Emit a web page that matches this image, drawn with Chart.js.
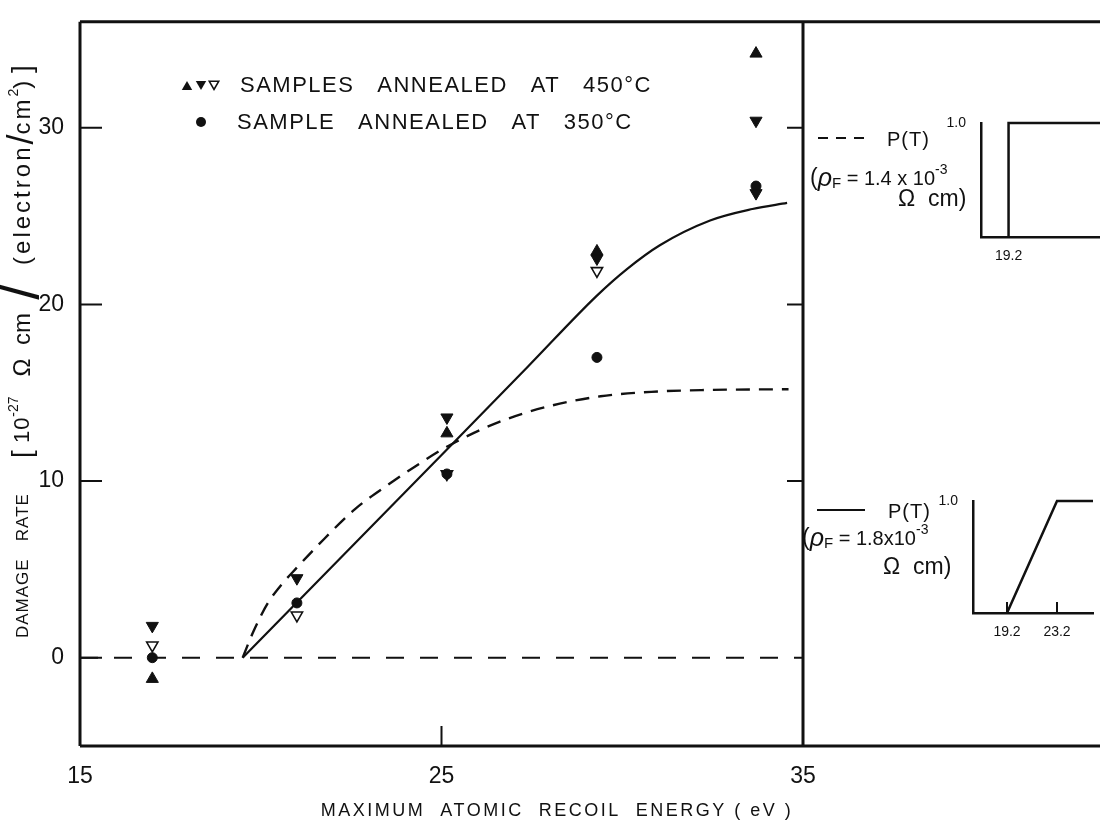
<!DOCTYPE html>
<html>
<head>
<meta charset="utf-8">
<script src="https://cdn.jsdelivr.net/npm/chart.js@4.4.1/dist/chart.umd.min.js"></script>
<style>
  html, body { margin: 0; padding: 0; background: #fff; }
  #wrap { position: relative; width: 1100px; height: 828px; }
  #mainBox { position: absolute; left: 0; top: 0; width: 1100px; height: 828px; }
  #inset1Box { position: absolute; left: 940px; top: 105px; width: 160px; height: 160px; }
  #inset2Box { position: absolute; left: 930px; top: 485px; width: 170px; height: 160px; }
</style>
</head>
<body>
<div id="wrap">
  <div id="mainBox"><canvas id="mainChart"></canvas></div>
  <div id="inset1Box"><canvas id="inset1Chart"></canvas></div>
  <div id="inset2Box"><canvas id="inset2Chart"></canvas></div>
</div>
<script>
const ink = "#111";
const fontFamily = "'Liberation Sans', Arial, sans-serif";

// axis ticks
const xTicks = [15, 25, 35];
const yTicks = [0, 10, 20, 30];

// measured points [energy eV, damage rate]
const upFilled450 = [[17.0, -1.2], [25.15, 12.7], [29.3, 23.0], [33.7, 34.2]];
const downFilled450 = [[17.0, 1.8], [21.0, 4.5], [25.15, 13.6], [29.3, 22.6], [33.7, 30.4], [33.7, 26.3]];
const downOpen450 = [[17.0, 0.7], [21.0, 2.4], [25.15, 10.4], [29.3, 21.9]];
const dots350 = [[17.0, 0], [21.0, 3.1], [25.15, 10.4], [29.3, 17.0], [33.7, 26.7]];

// calculated curves
const solidCurve = [[19.5, 0], [25.3, 12.1], [27.4, 16.5], [29.3, 20.5], [30.13, 22.0], [31.04, 23.35],
  [32.43, 24.75], [33.6, 25.4], [34.56, 25.75]];
const dashedCurve = [[19.5, 0], [19.8, 1.5], [20.2, 3.1], [20.6, 4.2], [21.0, 5.1], [21.6, 6.4], [22.6, 8.4],
  [23.6, 9.9], [24.4, 11.0], [25.2, 12.0], [26.6, 13.35], [28.0, 14.25], [29.4, 14.8], [30.8, 15.05],
  [32.2, 15.15], [34.6, 15.2]];
const zeroLine = [[15, 0], [35, 0]];

// P(T) insets
const stepPT = [[19.2, 0], [19.2, 1], [26.5, 1]];
const stepTicks = [19.2];
const rampPT = [[19.2, 0], [23.2, 1], [26.08, 1]];
const rampTicks = [19.2, 23.2];

const toXY = (pts) => pts.map(([x, y]) => ({ x: x, y: y }));

function drawPieces(ctx, pieces, x, y) {
  let cx = x;
  pieces.forEach((p) => {
    ctx.font = `${p.style || ""} ${p.size}px ${fontFamily}`;
    ctx.letterSpacing = (p.spacing || 0) + "px";
    ctx.fillText(p.text, cx, y + (p.dy || 0));
    cx += ctx.measureText(p.text).width;
  });
  ctx.letterSpacing = "0px";
}

function triangle(ctx, x, y, r, down, filled) {
  const s = down ? -1 : 1;
  ctx.beginPath();
  ctx.moveTo(x, y - s * r);
  ctx.lineTo(x + r * 0.87, y + s * r * 0.5);
  ctx.lineTo(x - r * 0.87, y + s * r * 0.5);
  ctx.closePath();
  if (filled) ctx.fill();
  else ctx.stroke();
}

const framePlugin = {
  id: "frame",
  afterDraw(chart) {
    const ctx = chart.ctx;
    const area = chart.chartArea;
    const xs = chart.scales.x;
    const ys = chart.scales.y;
    ctx.save();
    ctx.strokeStyle = ink;
    ctx.fillStyle = ink;
    ctx.lineWidth = 3;
    ctx.beginPath();
    ctx.moveTo(area.left, area.top);
    ctx.lineTo(chart.width, area.top);
    ctx.moveTo(area.left, area.bottom);
    ctx.lineTo(chart.width, area.bottom);
    ctx.moveTo(area.left, area.top);
    ctx.lineTo(area.left, area.bottom);
    ctx.moveTo(area.right, area.top);
    ctx.lineTo(area.right, area.bottom);
    ctx.stroke();

    // inward ticks
    ctx.lineWidth = 2;
    ctx.beginPath();
    yTicks.forEach((v) => {
      const py = ys.getPixelForValue(v);
      ctx.moveTo(area.left, py);
      ctx.lineTo(area.left + 22, py);
      if (v > 0) {
        ctx.moveTo(area.right, py);
        ctx.lineTo(area.right - 16, py);
      }
    });
    const px = xs.getPixelForValue(25);
    ctx.moveTo(px, area.bottom);
    ctx.lineTo(px, area.bottom - 20);
    ctx.stroke();

    // legend inside plot
    triangle(ctx, 187, 87, 6, false, true);
    triangle(ctx, 201, 84, 6, true, true);
    ctx.lineWidth = 1.5;
    triangle(ctx, 214, 84, 5.5, true, false);
    ctx.beginPath();
    ctx.arc(201, 122, 5, 0, Math.PI * 2);
    ctx.fill();
    ctx.textBaseline = "middle";
    ctx.textAlign = "left";
    drawPieces(ctx, [{ text: "SAMPLES   ANNEALED   AT   450°C", size: 22, spacing: 1.5 }], 240, 86);
    drawPieces(ctx, [{ text: "SAMPLE   ANNEALED   AT   350°C", size: 22, spacing: 1.5 }], 237, 123);

    // x axis title
    ctx.textAlign = "center";
    ctx.font = `18px ${fontFamily}`;
    ctx.letterSpacing = "2.5px";
    ctx.fillText("MAXIMUM  ATOMIC  RECOIL  ENERGY ( eV )", 557, 811);
    ctx.letterSpacing = "0px";

    // y axis title
    ctx.save();
    ctx.translate(23, 638);
    ctx.rotate(-Math.PI / 2);
    ctx.textAlign = "left";
    drawPieces(ctx, [{ text: "DAMAGE   RATE", size: 17, spacing: 1 }], 0, 0);
    drawPieces(ctx, [
      { text: "[", size: 28 },
      { text: " 10", size: 22, spacing: 1 },
      { text: "-27", size: 14, dy: -9 },
      { text: "   Ω  cm  ", size: 24 },
      { text: "/", size: 56 },
      { text: "  (electron", size: 24, spacing: 3 },
      { text: "/", size: 36 },
      { text: "cm", size: 24, spacing: 3 },
      { text: "2", size: 14, dy: -9 },
      { text: ")", size: 24 },
      { text: " ]", size: 28 },
    ], 180, 0);
    ctx.restore();

    // right panel legend texts
    ctx.textAlign = "left";
    ctx.lineWidth = 2;
    ctx.setLineDash([10, 8]);
    ctx.beginPath();
    ctx.moveTo(818, 138);
    ctx.lineTo(864, 138);
    ctx.stroke();
    ctx.setLineDash([]);
    drawPieces(ctx, [{ text: "P(T)", size: 20, spacing: 1 }], 887, 140);
    drawPieces(ctx, [
      { text: "(", size: 23 },
      { text: "ρ", size: 25, style: "italic" },
      { text: "F", size: 15, dy: 5 },
      { text: " = 1.4 x 10", size: 20 },
      { text: "-3", size: 14, dy: -9 },
    ], 810, 179);
    drawPieces(ctx, [{ text: "Ω  cm)", size: 23 }], 898, 200);

    ctx.beginPath();
    ctx.moveTo(817, 510);
    ctx.lineTo(865, 510);
    ctx.stroke();
    drawPieces(ctx, [{ text: "P(T)", size: 20, spacing: 1 }], 888, 512);
    drawPieces(ctx, [
      { text: "(", size: 23 },
      { text: "ρ", size: 25, style: "italic" },
      { text: "F", size: 15, dy: 5 },
      { text: " = 1.8x10", size: 20 },
      { text: "-3", size: 14, dy: -9 },
    ], 802, 539);
    drawPieces(ctx, [{ text: "Ω  cm)", size: 23 }], 883, 568);
    ctx.restore();
  },
};

const markerBase = { showLine: false, pointBorderColor: ink, pointHoverRadius: 0 };

new Chart(document.getElementById("mainChart"), {
  type: "scatter",
  data: {
    datasets: [
      { ...markerBase, data: toXY(downOpen450), pointStyle: "triangle", pointRotation: 180, pointRadius: 6.5,
        pointBackgroundColor: "rgba(255,255,255,0)", pointBorderWidth: 1.6 },
      { ...markerBase, data: toXY(upFilled450), pointStyle: "triangle", pointRadius: 7,
        pointBackgroundColor: ink, pointBorderWidth: 1 },
      { ...markerBase, data: toXY(downFilled450), pointStyle: "triangle", pointRotation: 180, pointRadius: 7,
        pointBackgroundColor: ink, pointBorderWidth: 1 },
      { ...markerBase, data: toXY(dots350), pointStyle: "circle", pointRadius: 5,
        pointBackgroundColor: ink, pointBorderWidth: 1 },
      { data: toXY(solidCurve), showLine: true, borderColor: ink, borderWidth: 2.2, pointRadius: 0,
        cubicInterpolationMode: "monotone" },
      { data: toXY(dashedCurve), showLine: true, borderColor: ink, borderWidth: 2.4, borderDash: [14, 9],
        pointRadius: 0, cubicInterpolationMode: "monotone" },
      { data: toXY(zeroLine), showLine: true, borderColor: ink, borderWidth: 2, borderDash: [18, 16], pointRadius: 0 },
    ],
  },
  options: {
    responsive: true,
    maintainAspectRatio: false,
    animation: false,
    layout: { padding: { top: 12, right: 297, bottom: 0, left: 0 } },
    plugins: { legend: { display: false }, tooltip: { enabled: false } },
    scales: {
      x: {
        type: "linear",
        min: 15,
        max: 35,
        afterBuildTicks: (scale) => { scale.ticks = xTicks.map((v) => ({ value: v })); },
        afterFit: (scale) => { scale.height = 82; },
        grid: { display: false },
        border: { display: false },
        ticks: { color: ink, font: { family: fontFamily, size: 23 }, padding: 9, maxRotation: 0, autoSkip: false },
      },
      y: {
        type: "linear",
        min: -5,
        max: 36,
        afterBuildTicks: (scale) => { scale.ticks = yTicks.map((v) => ({ value: v })); },
        afterFit: (scale) => { scale.width = 80; },
        grid: { display: false },
        border: { display: false },
        ticks: { color: ink, font: { family: fontFamily, size: 23 }, padding: 8, autoSkip: false },
      },
    },
  },
  plugins: [framePlugin],
});

function insetTickPlugin(ticks) {
  return {
    id: "insetTicks",
    afterDraw(chart) {
      const ctx = chart.ctx;
      const area = chart.chartArea;
      ctx.save();
      ctx.strokeStyle = ink;
      ctx.lineWidth = 2;
      ctx.beginPath();
      ticks.forEach((v) => {
        const px = chart.scales.x.getPixelForValue(v);
        ctx.moveTo(px, area.bottom);
        ctx.lineTo(px, area.bottom - 11);
      });
      ctx.stroke();
      ctx.restore();
    },
  };
}

function renderInset(canvasId, points, tickValues, xMin, xMax, yWidth, xHeight, padding, showTicks) {
  new Chart(document.getElementById(canvasId), {
    type: "scatter",
    data: {
      datasets: [
        { data: toXY(points), showLine: true, borderColor: ink, borderWidth: 2.5, pointRadius: 0, clip: false },
      ],
    },
    options: {
      responsive: true,
      maintainAspectRatio: false,
      animation: false,
      layout: { padding: padding },
      plugins: { legend: { display: false }, tooltip: { enabled: false } },
      scales: {
        x: {
          type: "linear",
          min: xMin,
          max: xMax,
          afterBuildTicks: (scale) => { scale.ticks = tickValues.map((v) => ({ value: v })); },
          afterFit: (scale) => { scale.height = xHeight; },
          grid: { display: false },
          border: { display: true, color: ink, width: 2.5 },
          ticks: { color: ink, font: { family: fontFamily, size: 14 }, padding: 3, maxRotation: 0, autoSkip: false,
            callback: (v) => v.toFixed(1) },
        },
        y: {
          type: "linear",
          min: 0,
          max: 1,
          afterBuildTicks: (scale) => { scale.ticks = [{ value: 1 }]; },
          afterFit: (scale) => { scale.width = yWidth; },
          grid: { display: false },
          border: { display: true, color: ink, width: 2.5 },
          ticks: { color: ink, font: { family: fontFamily, size: 14 }, padding: 7, autoSkip: false,
            callback: (v) => v.toFixed(1) },
        },
      },
    },
    plugins: showTicks ? [insetTickPlugin(tickValues)] : [],
  });
}

renderInset("inset1Chart", stepPT, stepTicks, 17, 26.5, 41, 28, { top: 18, right: 0, left: 0, bottom: 0 }, false);
renderInset("inset2Chart", rampPT, rampTicks, 16.48, 26.08, 43, 32, { top: 16, right: 7, left: 0, bottom: 0 }, true);
</script>
</body>
</html>
